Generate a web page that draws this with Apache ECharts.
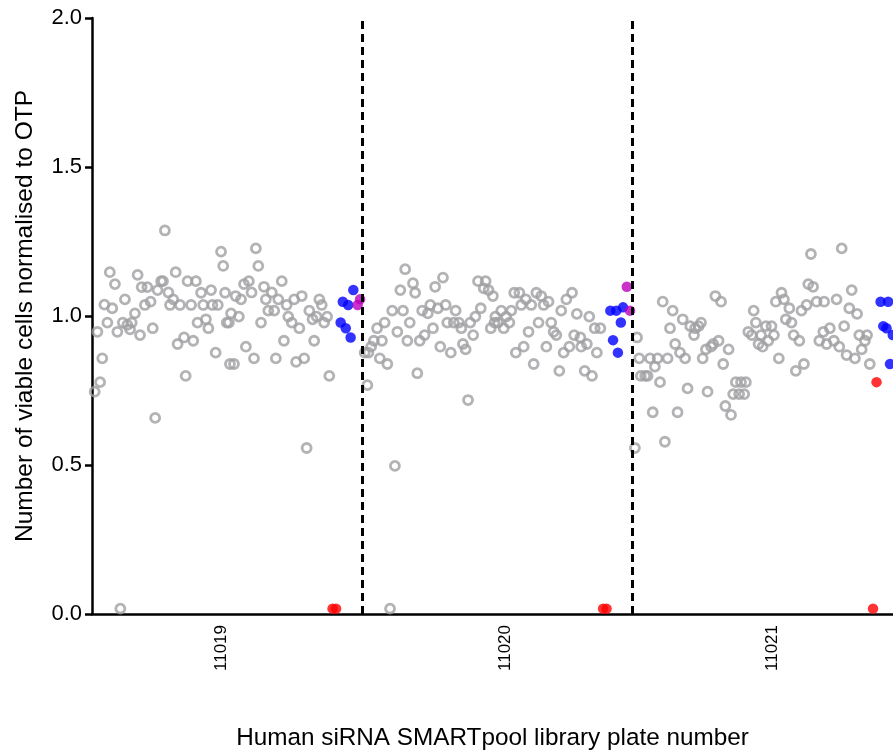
<!DOCTYPE html>
<html>
<head>
<meta charset="utf-8">
<script src="https://cdn.jsdelivr.net/npm/echarts@6/dist/echarts.min.js"></script>
<style>
html,body{margin:0;padding:0;background:#fff;}
#chart{width:893px;height:754px;}
</style>
</head>
<body>
<div id="chart"></div>
<script>
// ---- data (x = position along plate axis in plate units, y = normalised viable cells) ----
const plateLabels = ['11019', '11020', '11021'];
const yTicks = [0.0, 0.5, 1.0, 1.5, 2.0];
const plateBoundaries = [1, 2];

const plate11019Gray = [
  [0.270,1.287],[0.478,1.216],[0.486,1.168],[0.066,1.147],[0.169,1.138],[0.085,1.107],[0.310,1.147],
  [0.184,1.097],[0.205,1.097],[0.256,1.117],[0.263,1.117],[0.243,1.087],[0.283,1.079],[0.354,1.117],
  [0.385,1.117],[0.404,1.078],[0.441,1.087],[0.493,1.078],[0.122,1.056],[0.217,1.048],[0.196,1.037],
  [0.301,1.056],[0.046,1.038],[0.075,1.026],[0.289,1.037],[0.326,1.037],[0.367,1.037],[0.412,1.037],
  [0.446,1.037],[0.466,1.037],[0.159,1.009],[0.057,0.978],[0.114,0.978],[0.131,0.970],[0.147,0.978],
  [0.141,0.955],[0.094,0.947],[0.020,0.947],[0.178,0.936],[0.225,0.959],[0.391,0.978],[0.422,0.989],
  [0.431,0.959],[0.499,0.978],[0.317,0.906],[0.341,0.928],[0.375,0.917],[0.458,0.877],[0.511,0.839],
  [0.038,0.858],[0.030,0.778],[0.010,0.746],[0.347,0.799],[0.234,0.658],[0.105,0.018],
  [0.607,1.227],[0.616,1.168],[0.703,1.117],[0.563,1.107],[0.581,1.117],[0.637,1.098],[0.666,1.079],
  [0.532,1.067],[0.552,1.056],[0.591,1.079],[0.644,1.056],[0.690,1.056],[0.749,1.056],[0.777,1.067],
  [0.842,1.056],[0.851,1.037],[0.721,1.037],[0.515,1.009],[0.544,0.998],[0.507,0.978],[0.653,1.018],
  [0.675,1.018],[0.727,0.998],[0.740,0.978],[0.768,0.959],[0.805,1.018],[0.817,0.989],[0.832,0.998],
  [0.871,0.998],[0.860,0.978],[0.626,0.978],[0.711,0.917],[0.823,0.917],[0.570,0.897],[0.600,0.858],
  [0.681,0.858],[0.756,0.846],[0.786,0.858],[0.526,0.839],[0.879,0.799],[0.795,0.557]
];
const plate11020Gray = [
  [1.160,1.157],[1.189,1.110],[1.197,1.078],[1.142,1.087],[1.300,1.129],[1.271,1.098],[1.430,1.117],
  [1.458,1.117],[1.451,1.093],[1.469,1.087],[1.485,1.067],[1.112,1.018],[1.152,1.018],[1.223,1.018],
  [1.244,1.009],[1.253,1.037],[1.281,1.026],[1.310,1.037],[1.347,1.018],[1.084,0.978],[1.056,0.959],
  [1.177,0.978],[1.316,0.978],[1.340,0.978],[1.359,0.978],[1.368,0.959],[1.401,0.978],[1.420,0.998],
  [1.440,1.026],[1.477,0.959],[1.491,0.978],[1.263,0.959],[1.232,0.936],[1.214,0.917],[1.131,0.947],
  [1.168,0.917],[1.074,0.917],[1.044,0.917],[1.034,0.897],[1.010,0.877],[1.024,0.877],[1.066,0.858],
  [1.094,0.839],[1.412,0.936],[1.290,0.897],[1.329,0.877],[1.374,0.906],[1.384,0.888],[1.205,0.808],
  [1.020,0.768],[1.393,0.718],[1.122,0.497],[1.104,0.018],
  [1.564,1.078],[1.583,1.078],[1.646,1.078],[1.664,1.067],[1.691,1.048],[1.673,1.037],[1.778,1.078],
  [1.757,1.056],[1.607,1.056],[1.590,1.037],[1.627,1.037],[1.516,1.018],[1.553,1.018],[1.494,0.998],
  [1.534,0.998],[1.504,0.978],[1.546,0.978],[1.525,0.959],[1.738,1.018],[1.796,1.007],[1.842,0.998],
  [1.654,0.978],[1.701,0.978],[1.617,0.947],[1.710,0.947],[1.720,0.936],[1.862,0.959],[1.883,0.959],
  [1.786,0.936],[1.809,0.928],[1.833,0.906],[1.812,0.897],[1.599,0.897],[1.570,0.877],[1.683,0.897],
  [1.768,0.897],[1.747,0.877],[1.870,0.877],[1.636,0.839],[1.731,0.816],[1.825,0.816],[1.852,0.799]
];
const plate11021Gray = [
  [2.011,0.557],[2.309,1.067],[2.330,1.048],[2.114,1.048],[2.151,1.018],[2.188,0.989],[2.216,0.966],
  [2.234,0.959],[2.247,0.966],[2.256,0.978],[2.230,0.936],[2.141,0.959],[2.019,0.928],[2.160,0.906],
  [2.178,0.877],[2.197,0.858],[2.027,0.858],[2.067,0.858],[2.095,0.858],[2.132,0.858],[2.085,0.830],
  [2.033,0.799],[2.049,0.799],[2.058,0.799],[2.104,0.778],[2.206,0.757],[2.280,0.746],[2.077,0.677],
  [2.169,0.677],[2.122,0.578],[2.262,0.858],[2.274,0.888],[2.293,0.897],[2.301,0.906],[2.321,0.917],
  [2.358,0.888],[2.338,0.839],[2.451,1.018],[2.459,0.978],[2.431,0.947],[2.444,0.936],[2.478,0.936],
  [2.469,0.906],[2.484,0.897],[2.496,0.966],[2.385,0.778],[2.404,0.778],[2.422,0.778],[2.375,0.738],
  [2.397,0.738],[2.416,0.738],[2.346,0.698],[2.367,0.668],
  [2.777,1.227],[2.663,1.208],[2.653,1.107],[2.671,1.098],[2.814,1.087],[2.554,1.078],[2.533,1.048],
  [2.563,1.056],[2.583,1.026],[2.628,1.018],[2.647,1.037],[2.684,1.048],[2.712,1.048],[2.758,1.056],
  [2.805,1.026],[2.834,1.007],[2.570,0.989],[2.591,0.978],[2.517,0.966],[2.526,0.936],[2.505,0.917],
  [2.599,0.936],[2.620,0.917],[2.733,0.959],[2.709,0.947],[2.694,0.917],[2.721,0.906],[2.748,0.917],
  [2.768,0.897],[2.786,0.966],[2.795,0.869],[2.826,0.858],[2.851,0.888],[2.863,0.917],[2.842,0.936],
  [2.871,0.936],[2.881,0.839],[2.544,0.858],[2.607,0.816],[2.637,0.839]
];
const blueControls = [
  [0.968,1.087],[0.929,1.048],[0.949,1.037],[0.921,0.978],[0.940,0.959],[0.958,0.928],
  [1.920,1.018],[1.942,1.018],[1.967,1.029],[1.959,0.978],[1.930,0.919],[1.948,0.877],
  [2.921,1.048],[2.949,1.048],[2.931,0.966],[2.943,0.959],[2.966,0.936],[2.956,0.839]
];
const purpleControls = [
  [0.993,1.056],[0.984,1.037],
  [1.981,1.098],[1.993,1.018]
];
const redControls = [
  [0.891,0.018],[0.904,0.018],
  [1.893,0.018],[1.906,0.018],
  [2.906,0.778],[2.893,0.018]
];

// ---- layout constants ----
const xAxisMax = 2.967;
const plateLabelPositions = [0.478, 1.530, 2.519];

const FONT = "'Liberation Sans', Arial, Helvetica, sans-serif";
const chart = echarts.init(document.getElementById('chart'), null, {renderer: 'canvas'});

chart.setOption({
  backgroundColor: '#ffffff',
  animation: false,
  grid: {left: 92, right: 0, top: 18, bottom: 140, containLabel: false, outerBoundsMode: 'none'},
  xAxis: {
    type: 'value',
    min: 0,
    max: xAxisMax,
    name: 'Human siRNA SMARTpool library plate number',
    nameLocation: 'middle',
    nameGap: 112,
    nameTextStyle: {fontFamily: FONT, fontSize: 24.3, color: '#000'},
    axisLine: {show: true, onZero: false, lineStyle: {color: '#000', width: 2.5}},
    axisTick: {show: false},
    splitLine: {show: false},
    axisLabel: {
      show: true,
      customValues: plateLabelPositions,
      rotate: 90,
      margin: 11,
      fontFamily: FONT,
      fontSize: 17,
      color: '#000',
      formatter: function (v) {
        let best = 0, d = Infinity;
        plateLabelPositions.forEach(function (p, i) {
          if (Math.abs(p - v) < d) { d = Math.abs(p - v); best = i; }
        });
        return plateLabels[best];
      }
    }
  },
  yAxis: {
    type: 'value',
    min: yTicks[0],
    max: yTicks[yTicks.length - 1],
    interval: 0.5,
    name: 'Number of viable cells normalised to OTP',
    nameLocation: 'middle',
    nameGap: 54,
    nameTextStyle: {fontFamily: FONT, fontSize: 24.5, color: '#000'},
    axisLine: {show: true, lineStyle: {color: '#000', width: 2.5}},
    axisTick: {show: true, length: 7, lineStyle: {color: '#000', width: 2.5}},
    splitLine: {show: false},
    axisLabel: {
      margin: 10,
      fontFamily: FONT,
      fontSize: 22,
      color: '#000',
      formatter: function (v) { return v.toFixed(1); }
    }
  },
  series: [
    {
      type: 'scatter',
      name: 'samples',
      data: plate11019Gray.concat(plate11020Gray, plate11021Gray),
      symbol: 'circle',
      symbolSize: 9,
      itemStyle: {color: 'rgba(255,255,255,0)', borderColor: '#a0a0a4', borderWidth: 2.8},
      silent: true,
      clip: true,
      markLine: {
        silent: true,
        symbol: ['none', 'none'],
        label: {show: false},
        lineStyle: {color: '#000', width: 3, type: [8, 5]},
        data: plateBoundaries.map(function (b) { return {xAxis: b}; })
      }
    },
    {
      type: 'scatter', name: 'red', data: redControls, symbol: 'circle', symbolSize: 10.5,
      itemStyle: {color: '#ff0000'}, silent: true, clip: true
    },
    {
      type: 'scatter', name: 'blue', data: blueControls, symbol: 'circle', symbolSize: 10.5,
      itemStyle: {color: '#0000ff'}, silent: true, clip: true
    },
    {
      type: 'scatter', name: 'purple', data: purpleControls, symbol: 'circle', symbolSize: 10.5,
      itemStyle: {color: '#bb00bb'}, silent: true, clip: true
    }
  ]
});
</script>
</body>
</html>
